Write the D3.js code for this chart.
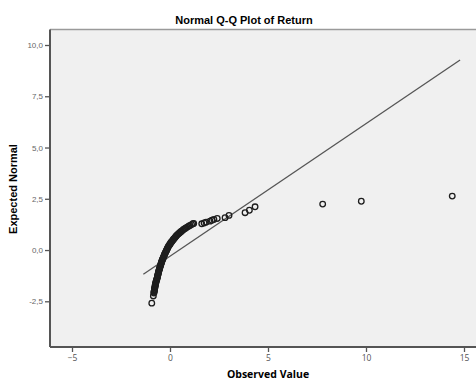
<!DOCTYPE html>
<html><head><meta charset="utf-8">
<script src="https://cdn.jsdelivr.net/npm/d3@7"></script>
<style>body{margin:0;background:#fff}svg{display:block}</style>
</head><body>
<script>
const observed = [-0.93,-0.85,
-0.82,-0.82,-0.81,-0.80,-0.79,-0.79,-0.78,-0.77,-0.76,
-0.76,-0.75,-0.74,-0.73,-0.72,-0.71,-0.70,-0.68,-0.67,-0.66,-0.65,
-0.64,-0.63,-0.62,-0.61,-0.60,-0.59,-0.58,-0.57,-0.56,-0.54,-0.53,
-0.52,-0.51,-0.49,-0.48,-0.47,-0.45,-0.44,-0.43,-0.41,-0.40,
-0.38,-0.36,-0.35,-0.33,-0.31,-0.29,-0.28,-0.26,-0.24,
-0.22,-0.20,-0.18,-0.16,-0.14,-0.12,-0.10,
-0.08,-0.05,-0.02,0.01,0.03,
0.06,0.10,0.13,0.16,0.19,
0.23,0.26,0.30,0.33,
0.37,0.42,0.47,0.51,0.55,
0.59,0.64,0.69,0.75,
0.81,0.88,0.95,
1.02,1.10,1.17,1.21,
1.62,1.74,1.84,2.04,2.14,2.24,2.41,2.81,3.01,3.83,4.05,4.34,
7.79,9.76,14.40];
const expected = [-2.59,-2.24,
-2.10,-2.06,-2.02,-1.98,-1.94,-1.90,-1.86,-1.82,-1.78,
-1.74,-1.70,-1.66,-1.62,-1.58,-1.54,-1.50,-1.46,-1.42,-1.38,-1.34,
-1.30,-1.26,-1.22,-1.18,-1.14,-1.10,-1.06,-1.02,-0.98,-0.94,-0.90,
-0.86,-0.82,-0.78,-0.74,-0.70,-0.66,-0.62,-0.58,-0.54,-0.50,
-0.46,-0.42,-0.38,-0.34,-0.30,-0.26,-0.22,-0.18,-0.14,
-0.10,-0.06,-0.02,0.02,0.06,0.10,0.14,
0.18,0.22,0.26,0.30,0.34,
0.38,0.42,0.46,0.50,0.54,
0.58,0.62,0.66,0.70,
0.74,0.78,0.82,0.86,0.89,
0.92,0.96,1.00,1.04,
1.08,1.12,1.16,
1.20,1.24,1.28,1.30,
1.28,1.32,1.36,1.41,1.45,1.49,1.54,1.58,1.69,1.82,1.94,2.11,
2.24,2.38,2.63];
// Reference line end points
const lineX = [-1.36, 14.8];
const lineY = [-1.18, 9.27];
// Ticks
const xTicks = [-5, 0, 5, 10, 15];
const yTicks = [-2.5, 0, 2.5, 5, 7.5, 10];
const yTickLabels = ["-2,5", "0,0", "2,5", "5,0", "7,5", "10,0"];
const title = "Normal Q-Q Plot of Return";
const xTitle = "Observed Value";
const yTitle = "Expected Normal";

const W = 476, H = 379;
const plot = {left: 50, top: 29.5, right: 482, bottom: 347};
const svg = d3.select("body").append("svg").attr("width", W).attr("height", H);

const x = d3.scaleLinear().domain([-5, 15]).range([72, 464]);
const y = d3.scaleLinear().domain([-2.5, 10]).range([301.3, 45]);

svg.append("rect").attr("x", plot.left).attr("y", plot.top)
  .attr("width", plot.right - plot.left).attr("height", plot.bottom - plot.top)
  .attr("fill", "#f0f0f0");
svg.append("line").attr("x1", plot.left).attr("x2", plot.right)
  .attr("y1", plot.top).attr("y2", plot.top).attr("stroke", "#9a9a9a").attr("stroke-width", 1.3);

svg.append("clipPath").attr("id", "c").append("rect")
  .attr("x", plot.left).attr("y", plot.top)
  .attr("width", plot.right - plot.left).attr("height", plot.bottom - plot.top);

const g = svg.append("g").attr("clip-path", "url(#c)");
g.append("line")
  .attr("x1", x(lineX[0])).attr("y1", y(lineY[0]))
  .attr("x2", x(lineX[1])).attr("y2", y(lineY[1]))
  .attr("stroke", "#555").attr("stroke-width", 1.3);

const pts = observed.map((v, i) => ({o: v, e: expected[i]}));
g.selectAll("circle").data(pts).enter().append("circle")
  .attr("cx", d => x(d.o)).attr("cy", d => y(d.e)).attr("r", 2.8)
  .attr("fill", "none").attr("stroke", "#1e1e1e").attr("stroke-width", 1.3);

// Axes
const xAxis = d3.axisBottom(x).tickValues(xTicks).tickSize(5).tickPadding(3).tickFormat(d3.format("d"));
const xa = svg.append("g").attr("transform", `translate(0,${plot.bottom})`).call(xAxis);
xa.select(".domain").remove();
xa.selectAll(".tick line").attr("stroke", "#555").attr("stroke-width", 1.3);
xa.selectAll(".tick text").attr("fill", "#555").attr("font-family", "Open Sans, sans-serif").attr("font-size", 8.5);
svg.append("line").attr("x1", plot.left).attr("x2", plot.right)
  .attr("y1", plot.bottom).attr("y2", plot.bottom).attr("stroke", "#555").attr("stroke-width", 2);

const yAxis = d3.axisLeft(y).tickValues(yTicks).tickSize(5).tickPadding(2)
  .tickFormat((d, i) => yTickLabels[i]);
const ya = svg.append("g").attr("transform", `translate(${plot.left},0)`).call(yAxis);
ya.select(".domain").remove();
ya.selectAll(".tick line").attr("stroke", "#555").attr("stroke-width", 1.3);
ya.selectAll(".tick text").attr("fill", "#666").attr("font-family", "Liberation Sans, Arial, sans-serif").attr("font-size", 8);
svg.append("line").attr("x1", plot.left).attr("x2", plot.left)
  .attr("y1", plot.top).attr("y2", plot.bottom).attr("stroke", "#555").attr("stroke-width", 2);

svg.append("text").attr("x", 244).attr("y", 24).attr("text-anchor", "middle")
  .attr("font-family", "Liberation Sans, Arial, sans-serif").attr("font-weight", "bold")
  .attr("font-size", 11).attr("fill", "#000").text(title);
svg.append("text").attr("x", 268).attr("y", 377.5).attr("text-anchor", "middle")
  .attr("font-family", "Open Sans, sans-serif").attr("font-weight", "bold")
  .attr("font-size", 10.5).attr("fill", "#000").text(xTitle);
svg.append("text").attr("transform", "translate(17,189) rotate(-90)").attr("text-anchor", "middle")
  .attr("font-family", "Liberation Sans, Arial, sans-serif").attr("font-weight", "bold")
  .attr("font-size", 11).attr("fill", "#000").text(yTitle);
</script>
</body></html>
